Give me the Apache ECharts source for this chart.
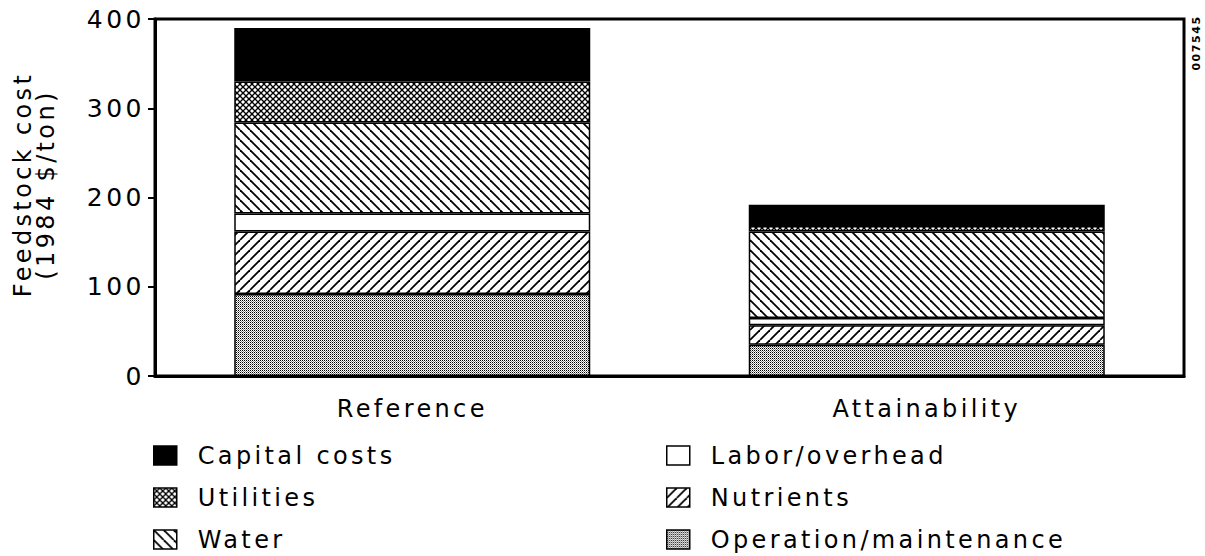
<!DOCTYPE html>
<html><head><meta charset="utf-8">
<script src="https://cdn.jsdelivr.net/npm/echarts@6/dist/echarts.min.js"></script>
<style>
html,body{margin:0;padding:0;background:#fff;}
#chart{width:1205px;height:556px;}
#chart text{letter-spacing:0.14em;}
</style></head><body><div id="chart"></div>
<script>
// ---- data ----
const categories = ['Reference', 'Attainability'];
const operationMaintenance = [92, 35];
const nutrients = [70, 22];
const laborOverhead = [20, 8];
const water = [102, 97];
const utilities = [46, 6];
const capitalCosts = [60, 24];
const yAxisName = 'Feedstock cost\n(1984 $/ton)';
const legendLeft = ['Capital costs', 'Utilities', 'Water'];
const legendRight = ['Labor/overhead', 'Nutrients', 'Operation/maintenance'];

// ---- patterns ----
function mk(size, draw) {
  const c = document.createElement('canvas');
  c.width = size; c.height = size;
  const g = c.getContext('2d');
  g.fillStyle = '#fff'; g.fillRect(0, 0, size, size);
  draw(g, size);
  return { image: c, repeat: 'repeat', imageWidth: size, imageHeight: size };
}
function diag(g, d, back, w) {
  g.strokeStyle = '#000'; g.lineWidth = w;
  for (let k = -1; k <= 1; k++) {
    g.beginPath();
    if (back) { g.moveTo(k * d, 0); g.lineTo(k * d + d, d); }
    else { g.moveTo(k * d + d, 0); g.lineTo(k * d, d); }
    g.stroke();
  }
}
const patWater = mk(10, (g, d) => diag(g, d, true, 1.8));
const patNutr = mk(10, (g, d) => diag(g, d, false, 1.8));
const patUtil = mk(6, (g, d) => { diag(g, d, true, 1.3); diag(g, d, false, 1.3); });
const patOM = mk(4, (g, d) => {
  for (let y = 0; y < 4; y++) for (let x = 0; x < 4; x++) {
    if (x % 2 === 0 && y % 2 === 0) { g.fillStyle = '#000'; g.fillRect(x, y, 1, 1); }
    else if (x % 2 === 1 && y % 2 === 1) { g.fillStyle = '#8a8a8a'; g.fillRect(x, y, 1, 1); }
  }
});

const FONT = 'DejaVu Sans';
function bar(name, data, color) {
  return {
    name, type: 'bar', stack: 'total', data, barWidth: 356,
    itemStyle: { color, borderColor: '#000', borderWidth: 1.5 },
    emphasis: { disabled: true }
  };
}
const rowCenters = [453, 495, 537];
const colLeft = [153, 666];
function legendItem(name, col, row) {
  return {
    left: colLeft[col], top: rowCenters[row] - 9.5, data: [name],
    orient: 'horizontal', itemWidth: 23, itemHeight: 19, padding: 0, icon: 'rect',
    selectedMode: false,
    textStyle: { fontSize: 24, lineHeight: 19, fontFamily: FONT, color: '#000', padding: [0, 0, 0, 16] },
    itemStyle: { borderColor: '#000', borderWidth: 1.5 }
  };
}
const legends = [];
legendLeft.forEach((n, i) => legends.push(legendItem(n, 0, i)));
legendRight.forEach((n, i) => legends.push(legendItem(n, 1, i)));

const chart = echarts.init(document.getElementById('chart'), null, { renderer: 'svg' });
chart.setOption({
  animation: false,
  backgroundColor: '#fff',
  textStyle: { fontFamily: FONT },
  grid: { left: 155, right: 21, top: 19, bottom: 180, show: true, borderColor: '#000', borderWidth: 3 },
  legend: legends,
  xAxis: {
    type: 'category', data: categories,
    axisLine: { show: true, lineStyle: { color: '#000', width: 3 } },
    axisTick: { show: false },
    axisLabel: { color: '#000', fontSize: 24, margin: 21, fontFamily: FONT }
  },
  yAxis: {
    type: 'value', min: 0, max: 400, interval: 100,
    name: yAxisName, nameLocation: 'middle', nameRotate: 90, nameGap: 98,
    nameTextStyle: { fontSize: 24, lineHeight: 23, color: '#000', fontFamily: FONT, padding: [0, 0, 0, 26] },
    axisLine: { show: true, lineStyle: { color: '#000', width: 3 } },
    axisTick: { show: true, length: 7, lineStyle: { color: '#000', width: 2 } },
    splitLine: { show: false },
    axisLabel: { color: '#000', fontSize: 25, margin: 10, fontFamily: FONT }
  },
  graphic: [{
    type: 'text', x: 1196, y: 43, rotation: Math.PI / 2,
    style: { text: '007545', font: 'bold 11px DejaVu Sans', fill: '#000', align: 'center', verticalAlign: 'middle' }
  }],
  series: [
    bar('Operation/maintenance', operationMaintenance, patOM),
    bar('Nutrients', nutrients, patNutr),
    bar('Labor/overhead', laborOverhead, '#fff'),
    bar('Water', water, patWater),
    bar('Utilities', utilities, patUtil),
    bar('Capital costs', capitalCosts, '#000')
  ]
});
</script></body></html>
